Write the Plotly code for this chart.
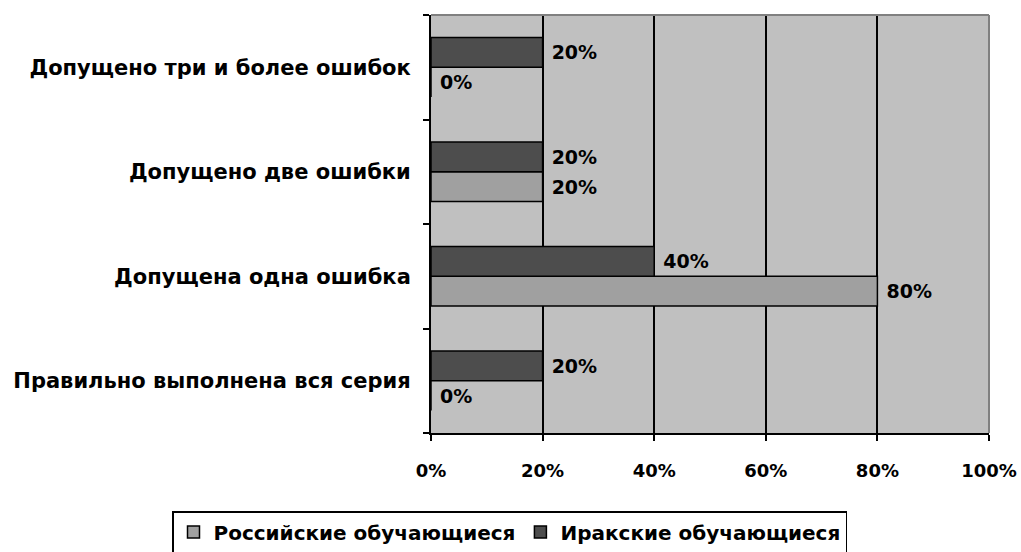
import plotly.graph_objects as go

categories = [
    "Правильно выполнена вся серия",
    "Допущена одна ошибка",
    "Допущено две ошибки",
    "Допущено три и более ошибок",
]
russian = [0, 80, 20, 0]
iraqi = [20, 40, 20, 20]
x_ticks = [0, 20, 40, 60, 80, 100]

FONT = "DejaVu Sans, Liberation Sans, Arial, sans-serif"

# plot-area geometry in pixels
W, H = 1021, 552
L, R, T, B = 431, 32, 15, 119
plot_w, plot_h = W - L - R, H - T - B


def bar_labels(values):
    return [f"&nbsp;<b>{v}%</b>" for v in values]


fig = go.Figure()
fig.add_trace(go.Bar(
    y=categories, x=russian, orientation="h", name="<b>Российские обучающиеся</b>",
    marker=dict(color="#A0A0A0", line=dict(color="black", width=1.5)),
    text=bar_labels(russian), textposition="outside", constraintext="none",
    textfont=dict(size=19, color="black", family=FONT), cliponaxis=False,
))
fig.add_trace(go.Bar(
    y=categories, x=iraqi, orientation="h", name="<b>Иракские обучающиеся</b>",
    marker=dict(color="#4D4D4D", line=dict(color="black", width=1.5)),
    text=bar_labels(iraqi), textposition="outside", constraintext="none",
    textfont=dict(size=19, color="black", family=FONT), cliponaxis=False,
))

fig.update_layout(
    width=W, height=H,
    margin=dict(l=L, r=R, t=T, b=B, autoexpand=False),
    paper_bgcolor="white", plot_bgcolor="#C0C0C0",
    barmode="group", bargap=0.43, bargroupgap=0,
    font=dict(family=FONT, color="black"),
    showlegend=True,
    legend=dict(
        orientation="h",
        x=(172 - L) / plot_w, xanchor="left", xref="paper",
        y=-(511 - (T + plot_h)) / plot_h, yanchor="top", yref="paper",
        bordercolor="black", borderwidth=1.5, bgcolor="white",
        font=dict(size=20, family=FONT),
        traceorder="normal", itemwidth=30,
    ),
    xaxis=dict(
        range=[0, 100], tickvals=x_ticks,
        ticktext=[f"<b>{v}%</b>" for v in x_ticks],
        tickfont=dict(size=18, family=FONT),
        showgrid=True, gridcolor="black", gridwidth=2,
        showline=True, linecolor="black", linewidth=2,
        ticks="outside", ticklen=6, tickwidth=2, tickcolor="black",
        ticklabelstandoff=14,
        zeroline=False, fixedrange=True, automargin=False,
    ),
    yaxis=dict(
        type="category", categoryorder="array", categoryarray=categories,
        tickson="boundaries", ticks="outside", ticklen=6, tickwidth=2,
        tickcolor="black", showgrid=False,
        showline=True, linecolor="black", linewidth=2,
        tickfont=dict(size=21, family=FONT),
        ticktext=[f"<b>{c}</b>" for c in categories], tickvals=categories,
        ticklabelstandoff=14, fixedrange=True, automargin=False,
    ),
)

# thin grey frame on the top and right edges of the plotting area
fig.add_shape(type="line", xref="paper", yref="paper", x0=0, x1=1, y0=1, y1=1,
              line=dict(color="#808080", width=2))
fig.add_shape(type="line", xref="paper", yref="paper", x0=1, x1=1, y0=0, y1=1,
              line=dict(color="#808080", width=2))

fig.write_html("out.html")
